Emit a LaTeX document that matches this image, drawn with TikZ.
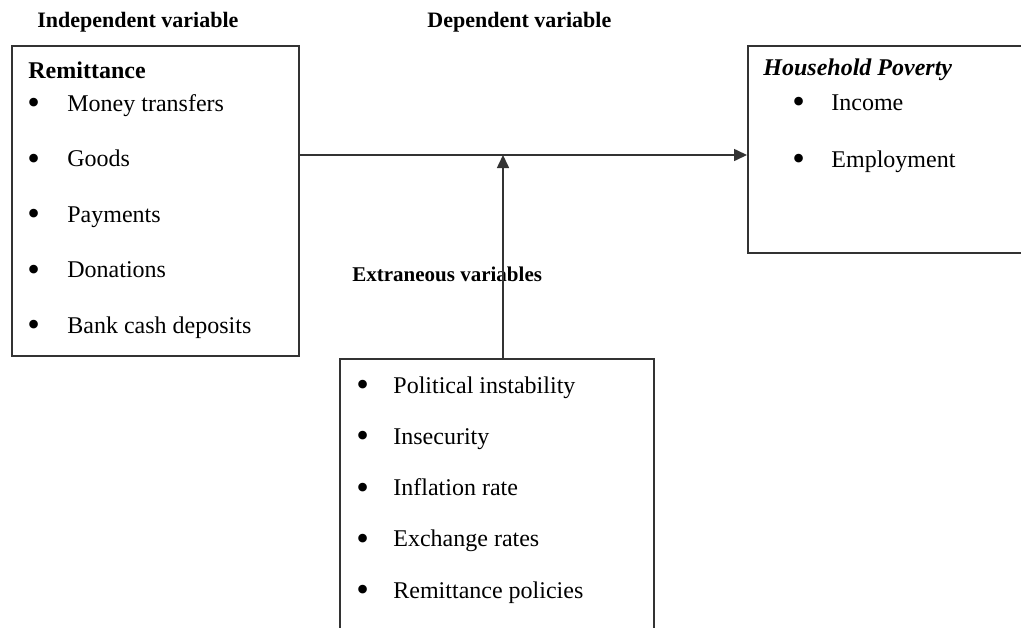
\documentclass[tikz,border=0pt]{standalone}
\usepackage{fontspec}
\setmainfont{Liberation Serif}
\usetikzlibrary{arrows.meta}
\newcommand{\bul}{\raisebox{-0.15em}{\scalebox{1.5}{\textbullet}}}

\begin{document}
\begin{tikzpicture}[
  x=0.5pt, y=-0.5pt,
  box/.style={draw=black!80, line width=0.8pt, inner sep=0pt, anchor=north west},
  head/.style={anchor=base west, inner sep=0pt, font=\fontsize{11}{13}\selectfont\bfseries},
  item/.style={anchor=base west, inner sep=0pt, font=\fontsize{12}{14}\selectfont},
  arr/.style={-{Triangle[length=6.5pt,width=6pt]}, line width=0.8pt, draw=black!80}
]
\path[use as bounding box, clip] (0,0) rectangle (1021,627);

% headings
\node[head] (indep) at (37,27) {Independent variable};
\node[head] (dep) at (427,27) {Dependent variable};
\node[head, font=\fontsize{10.5}{13}\selectfont\bfseries] (extra) at (352,281) {Extraneous variables};

% frames
\node[box, minimum width=143.5pt, minimum height=155pt] (remit) at (11,45) {};
\node[box, minimum width=150pt, minimum height=103.5pt] (pov) at (747,45) {};
\node[box, minimum width=157pt, minimum height=145pt] (ext) at (339,358) {};

% remittance list
\node[item, font=\fontsize{12}{14}\selectfont\bfseries] (remhd) at (28,78) {Remittance};
\foreach \txt [count=\i] in {Money transfers, Goods, Payments, Donations, Bank cash deposits}
  \node[item] (rem\i) at (27,{111+55.5*(\i-1)}) {\makebox[20pt][l]{\bul}\txt};

% poverty list
\node[item, font=\fontsize{12}{14}\selectfont\bfseries\itshape] (povhd) at (763,75) {Household Poverty};
\foreach \txt [count=\i] in {Income, Employment}
  \node[item] (pov\i) at (792,{110+57*(\i-1)}) {\makebox[19.5pt][l]{\bul}\txt};

% extraneous list
\foreach \txt [count=\i] in {Political instability, Insecurity, Inflation rate, Exchange rates, Remittance policies}
  \node[item] (ext\i) at (356,{393+51.3*(\i-1)}) {\makebox[18.5pt][l]{\bul}\txt};

% links
\coordinate (join) at (503,155);
\draw[arr] (remit.east |- join) -- (pov.west |- join);
\draw[arr] (ext.north -| join) -- (join);
\end{tikzpicture}
\end{document}
